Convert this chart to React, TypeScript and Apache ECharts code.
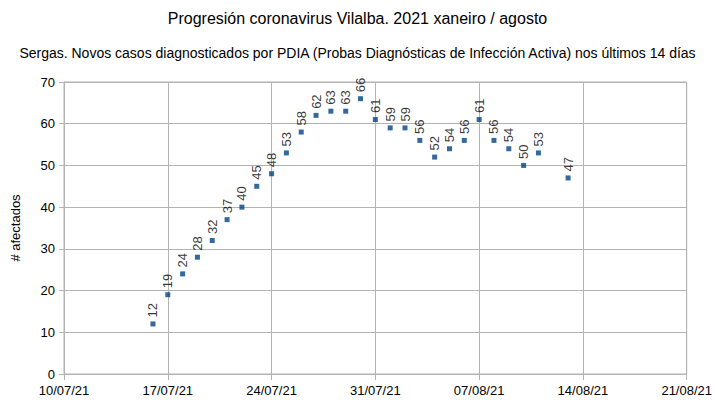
import React, { useEffect, useRef } from "react";
import * as echarts from "echarts";

const dates = [
  "16/07/21", "17/07/21", "18/07/21", "19/07/21", "20/07/21", "21/07/21", "22/07/21",
  "23/07/21", "24/07/21", "25/07/21", "26/07/21", "27/07/21", "28/07/21", "29/07/21",
  "30/07/21", "31/07/21", "01/08/21", "02/08/21", "03/08/21", "04/08/21", "05/08/21",
  "06/08/21", "07/08/21", "08/08/21", "09/08/21", "10/08/21", "11/08/21", "13/08/21",
];
const values = [
  12, 19, 24, 28, 32, 37, 40,
  45, 48, 53, 58, 62, 63, 63,
  66, 61, 59, 59, 56, 52, 54,
  56, 61, 56, 54, 50, 53, 47,
];
const axisStart = "10/07/21";
const axisEnd = "21/08/21";
const yTicks = [0, 10, 20, 30, 40, 50, 60, 70];

const DAY = 86400000;
function parse(d: string): number {
  const [dd, mm, yy] = d.split("/").map(Number);
  return Date.UTC(2000 + yy, mm - 1, dd);
}
const t0 = parse(axisStart);
const dayIndex = (d: string) => Math.round((parse(d) - t0) / DAY);
function fmt(offset: number): string {
  const dt = new Date(t0 + offset * DAY);
  const dd = String(dt.getUTCDate()).padStart(2, "0");
  const mm = String(dt.getUTCMonth() + 1).padStart(2, "0");
  const yy = String(dt.getUTCFullYear() % 100).padStart(2, "0");
  return `${dd}/${mm}/${yy}`;
}

const FONT = "Liberation Sans";
const GRIDC = "#b3b3b3";

export default function App() {
  const ref = useRef<HTMLDivElement>(null);
  useEffect(() => {
    if (!ref.current) return;
    const chart = echarts.init(ref.current, null, { renderer: "svg" });
    chart.setOption({
      animation: false,
      backgroundColor: "#ffffff",
      textStyle: { fontFamily: FONT },
      title: [
        {
          text: "Progresión coronavirus Vilalba. 2021 xaneiro / agosto",
          left: "center",
          top: 5,
          textStyle: { fontFamily: FONT, fontSize: 16, fontWeight: "normal", color: "#000" },
        },
        {
          text: "Sergas. Novos casos diagnosticados por PDIA (Probas Diagnósticas de Infección Activa) nos últimos 14 días",
          left: "center",
          top: 41,
          textStyle: { fontFamily: FONT, fontSize: 14, fontWeight: "normal", color: "#000" },
        },
      ],
      grid: {
        left: 64,
        top: 82,
        width: 625,
        height: 292,
        show: true,
        borderColor: GRIDC,
        borderWidth: 1,
      },
      xAxis: {
        type: "value",
        min: 0,
        max: dayIndex(axisEnd),
        interval: 7,
        axisLine: { show: true, onZero: false, lineStyle: { color: GRIDC } },
        axisTick: { show: true, length: 6, lineStyle: { color: GRIDC } },
        splitLine: { show: true, lineStyle: { color: GRIDC } },
        axisLabel: {
          formatter: (v: number) => fmt(v),
          fontFamily: FONT,
          fontSize: 13,
          color: "#000",
          margin: 10,
        },
      },
      yAxis: {
        type: "value",
        min: yTicks[0],
        max: yTicks[yTicks.length - 1],
        interval: 10,
        name: "# afectados",
        nameLocation: "middle",
        nameGap: 42,
        nameRotate: 90,
        nameTextStyle: { fontFamily: FONT, fontSize: 13, color: "#000" },
        axisLine: { show: true, lineStyle: { color: GRIDC } },
        axisTick: { show: true, length: 5, lineStyle: { color: GRIDC } },
        splitLine: { show: true, lineStyle: { color: GRIDC } },
        axisLabel: { fontFamily: FONT, fontSize: 13, color: "#000", margin: 9 },
      },
      series: [
        {
          type: "scatter",
          symbol: "rect",
          symbolSize: 5,
          itemStyle: { color: "#004586" },
          data: dates.map((d, i) => [dayIndex(d), values[i]]),
          label: {
            show: true,
            position: "top",
            rotate: 90,
            align: "left",
            verticalAlign: "middle",
            distance: 4,
            fontFamily: FONT,
            fontSize: 13,
            color: "#000",
            formatter: (p: any) => String(p.value[1]),
          },
        },
      ],
    });
    return () => chart.dispose();
  }, []);
  return (
    <div
      ref={ref}
      style={{ position: "fixed", left: 0, top: 0, width: 715, height: 402 }}
    />
  );
}
